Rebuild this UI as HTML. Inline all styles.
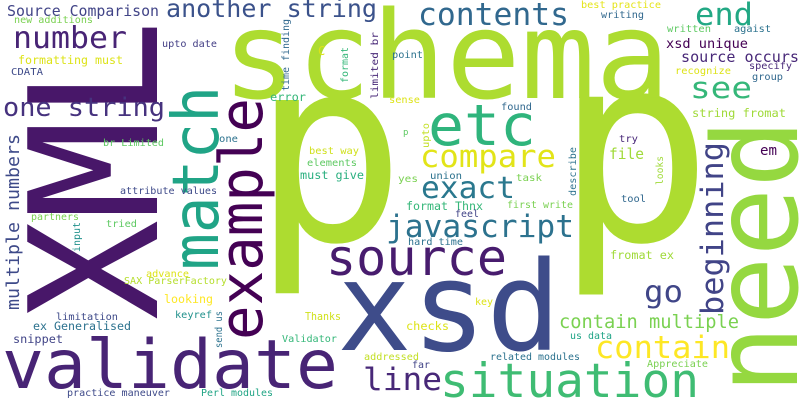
<!DOCTYPE html>
<html><head><meta charset="utf-8">
<style>
html,body{margin:0;padding:0;background:#fff;}
svg{display:block;}
text{font-family:"DejaVu Sans Mono","Liberation Mono",monospace;}
</style></head>
<body>
<svg width="800" height="400" viewBox="0 0 800 400" xmlns="http://www.w3.org/2000/svg">
<rect width="800" height="400" fill="#fff"/>
<g lengthAdjust="spacingAndGlyphs">
<!-- giant words -->
<text x="252" y="240" font-size="256" fill="#addc30" textLength="154" lengthAdjust="spacingAndGlyphs">p</text>
<text x="555" y="240" font-size="262" fill="#addc30" textLength="158" lengthAdjust="spacingAndGlyphs">p</text>
<text x="222" y="98" font-size="121" fill="#addc30" textLength="448" lengthAdjust="spacingAndGlyphs">schema</text>
<text transform="translate(157,320) rotate(-90)" font-size="178" fill="#481769" textLength="300" lengthAdjust="spacingAndGlyphs">XML</text>
<text transform="translate(797,394) rotate(-90)" font-size="118" fill="#95d840" textLength="275" lengthAdjust="spacingAndGlyphs">need</text>
<text x="337" y="350" font-size="124" fill="#3e4c8a" textLength="224" lengthAdjust="spacingAndGlyphs">xsd</text>
<text x="2" y="388" font-size="68" fill="#482475" textLength="336" lengthAdjust="spacingAndGlyphs">validate</text>
<text transform="translate(218,270) rotate(-90)" font-size="64" fill="#20a486" textLength="184" lengthAdjust="spacingAndGlyphs">match</text>
<text transform="translate(262,340) rotate(-90)" font-size="60" fill="#440154" textLength="242" lengthAdjust="spacingAndGlyphs">example</text>
<text x="326" y="275" font-size="50" fill="#481c6e" textLength="181" lengthAdjust="spacingAndGlyphs">source</text>
<text x="440" y="397" font-size="47" fill="#3fbc73" textLength="259" lengthAdjust="spacingAndGlyphs">situation</text>
<text x="428" y="145" font-size="57" fill="#2fb47c" textLength="108" lengthAdjust="spacingAndGlyphs">etc</text>
<!-- medium -->
<text x="420" y="167" font-size="31.5" fill="#e2e418" textLength="136" lengthAdjust="spacingAndGlyphs">compare</text>
<text x="421" y="198" font-size="30" fill="#2a788e" textLength="94" lengthAdjust="spacingAndGlyphs">exact</text>
<text x="386" y="237" font-size="31" fill="#2c728e" textLength="188" lengthAdjust="spacingAndGlyphs">javascript</text>
<text x="418" y="25" font-size="30.7" fill="#31688e" textLength="151" lengthAdjust="spacingAndGlyphs">contents</text>
<text x="695" y="25" font-size="30.7" fill="#22a884" textLength="58" lengthAdjust="spacingAndGlyphs">end</text>
<text x="690" y="98" font-size="29" fill="#35b779" textLength="62" lengthAdjust="spacingAndGlyphs">see</text>
<text x="644" y="302" font-size="30" fill="#404688" textLength="39" lengthAdjust="spacingAndGlyphs">go</text>
<text transform="translate(723,315) rotate(-90)" font-size="31" fill="#414487" textLength="173" lengthAdjust="spacingAndGlyphs">beginning</text>
<text x="595" y="358" font-size="31" fill="#fde725" textLength="135" lengthAdjust="spacingAndGlyphs">contain</text>
<text x="559" y="328" font-size="18.4" fill="#7ad151" textLength="180" lengthAdjust="spacingAndGlyphs">contain multiple</text>
<text x="363" y="390" font-size="31" fill="#482878" textLength="79" lengthAdjust="spacingAndGlyphs">line</text>
<text x="13" y="48" font-size="30" fill="#482475" textLength="114" lengthAdjust="spacingAndGlyphs">number</text>
<text x="3" y="116" font-size="26" fill="#46327e" textLength="162" lengthAdjust="spacingAndGlyphs">one string</text>
<text x="166" y="17" font-size="24.5" fill="#3b528b" textLength="211" lengthAdjust="spacingAndGlyphs">another string</text>
<text x="7" y="16" font-size="15" fill="#414487" textLength="152" lengthAdjust="spacingAndGlyphs">Source Comparison</text>
<text transform="translate(19,310) rotate(-90)" font-size="18" fill="#3e4a89" textLength="176" lengthAdjust="spacingAndGlyphs">multiple numbers</text>
<text x="666" y="48" font-size="13.3" fill="#440154" textLength="82" lengthAdjust="spacingAndGlyphs">xsd unique</text>
<text x="681" y="62" font-size="14.7" fill="#482878" textLength="118" lengthAdjust="spacingAndGlyphs">source occurs</text>
<text x="692" y="117" font-size="11.7" fill="#a0da39" textLength="94" lengthAdjust="spacingAndGlyphs">string fromat</text>
<text x="760" y="155" font-size="14" fill="#440154" textLength="17" lengthAdjust="spacingAndGlyphs">em</text>
<text x="609" y="159" font-size="15" fill="#a0da39" textLength="35" lengthAdjust="spacingAndGlyphs">file</text>
<text x="610" y="259" font-size="11.3" fill="#a0da39" textLength="64" lengthAdjust="spacingAndGlyphs">fromat ex</text>
<!-- small -->
<text x="14" y="23" font-size="10" fill="#7ad151" textLength="79" lengthAdjust="spacingAndGlyphs">new additions</text>
<text x="18" y="64" font-size="11.4" fill="#dde318" textLength="105" lengthAdjust="spacingAndGlyphs">formatting must</text>
<text x="11" y="75" font-size="10" fill="#3e4a89" textLength="32" lengthAdjust="spacingAndGlyphs">CDATA</text>
<text x="162" y="47" font-size="10" fill="#433e85" textLength="55" lengthAdjust="spacingAndGlyphs">upto date</text>
<text x="270" y="101" font-size="11.4" fill="#35b779" textLength="36" lengthAdjust="spacingAndGlyphs">error</text>
<text x="318" y="55" font-size="12" fill="#dde318">C</text>
<text x="103" y="146" font-size="10" fill="#5ec962" textLength="61" lengthAdjust="spacingAndGlyphs">br Limited</text>
<text x="219" y="142" font-size="10" fill="#2c728e" textLength="19" lengthAdjust="spacingAndGlyphs">one</text>
<text x="309" y="154" font-size="10" fill="#d0e11c" textLength="50" lengthAdjust="spacingAndGlyphs">best way</text>
<text x="307" y="166" font-size="10" fill="#5ec962" textLength="50" lengthAdjust="spacingAndGlyphs">elements</text>
<text x="300" y="179" font-size="11.4" fill="#29af7f" textLength="64" lengthAdjust="spacingAndGlyphs">must give</text>
<text x="120" y="194" font-size="10" fill="#3e4a89" textLength="97" lengthAdjust="spacingAndGlyphs">attribute values</text>
<text x="31" y="220" font-size="10" fill="#7ad151" textLength="48" lengthAdjust="spacingAndGlyphs">partners</text>
<text x="106" y="227" font-size="10" fill="#5ec962" textLength="31" lengthAdjust="spacingAndGlyphs">tried</text>
<text x="146" y="277" font-size="10" fill="#dde318" textLength="43" lengthAdjust="spacingAndGlyphs">advance</text>
<text x="124" y="284" font-size="10" fill="#b5de2b" textLength="103" lengthAdjust="spacingAndGlyphs">SAX ParserFactory</text>
<text x="164" y="303" font-size="11.3" fill="#fde725" textLength="49" lengthAdjust="spacingAndGlyphs">looking</text>
<text x="56" y="320" font-size="10" fill="#3e4a89" textLength="62" lengthAdjust="spacingAndGlyphs">limitation</text>
<text x="175" y="318" font-size="10" fill="#21918c" textLength="37" lengthAdjust="spacingAndGlyphs">keyref</text>
<text x="33" y="330" font-size="11.4" fill="#2c728e" textLength="98" lengthAdjust="spacingAndGlyphs">ex Generalised</text>
<text x="13" y="343" font-size="11.4" fill="#414487" textLength="50" lengthAdjust="spacingAndGlyphs">snippet</text>
<text x="282" y="342" font-size="10" fill="#35b779" textLength="55" lengthAdjust="spacingAndGlyphs">Validator</text>
<text x="305" y="320" font-size="10.5" fill="#d0e11c" textLength="36" lengthAdjust="spacingAndGlyphs">Thanks</text>
<text x="67" y="396" font-size="10" fill="#3e4a89" textLength="103" lengthAdjust="spacingAndGlyphs">practice maneuver</text>
<text x="201" y="396" font-size="10" fill="#21a585" textLength="72" lengthAdjust="spacingAndGlyphs">Perl modules</text>
<text x="389" y="103" font-size="10" fill="#dde318" textLength="31" lengthAdjust="spacingAndGlyphs">sense</text>
<text x="501" y="110" font-size="10" fill="#31688e" textLength="31" lengthAdjust="spacingAndGlyphs">found</text>
<text x="392" y="58" font-size="10" fill="#2c728e" textLength="31" lengthAdjust="spacingAndGlyphs">point</text>
<text x="403" y="135" font-size="9" fill="#5ec962">p</text>
<text x="398" y="182" font-size="10" fill="#7ad151" textLength="20" lengthAdjust="spacingAndGlyphs">yes</text>
<text x="430" y="179" font-size="10" fill="#2c728e" textLength="32" lengthAdjust="spacingAndGlyphs">union</text>
<text x="516" y="181" font-size="10" fill="#7ad151" textLength="26" lengthAdjust="spacingAndGlyphs">task</text>
<text x="406" y="210" font-size="11.4" fill="#35b779" textLength="77" lengthAdjust="spacingAndGlyphs">format Thnx</text>
<text x="507" y="208" font-size="10" fill="#7ad151" textLength="66" lengthAdjust="spacingAndGlyphs">first write</text>
<text x="455" y="217" font-size="10" fill="#414487" textLength="24" lengthAdjust="spacingAndGlyphs">feel</text>
<text x="408" y="245" font-size="10" fill="#2c728e" textLength="55" lengthAdjust="spacingAndGlyphs">hard time</text>
<text x="475" y="305" font-size="10" fill="#dde318" textLength="18" lengthAdjust="spacingAndGlyphs">key</text>
<text x="406" y="330" font-size="11.4" fill="#dde318" textLength="43" lengthAdjust="spacingAndGlyphs">checks</text>
<text x="570" y="339" font-size="10" fill="#20a486" textLength="42" lengthAdjust="spacingAndGlyphs">us data</text>
<text x="364" y="360" font-size="10" fill="#c2df23" textLength="55" lengthAdjust="spacingAndGlyphs">addressed</text>
<text x="490" y="360" font-size="10" fill="#2c728e" textLength="90" lengthAdjust="spacingAndGlyphs">related modules</text>
<text x="412" y="368" font-size="10" fill="#414487" textLength="18" lengthAdjust="spacingAndGlyphs">far</text>
<text x="647" y="367" font-size="10" fill="#7ad151" textLength="61" lengthAdjust="spacingAndGlyphs">Appreciate</text>
<text x="619" y="142" font-size="10" fill="#482878" textLength="19" lengthAdjust="spacingAndGlyphs">try</text>
<text x="621" y="202" font-size="10" fill="#31688e" textLength="25" lengthAdjust="spacingAndGlyphs">tool</text>
<text x="581" y="8" font-size="10" fill="#e5e419" textLength="80" lengthAdjust="spacingAndGlyphs">best practice</text>
<text x="601" y="18" font-size="10" fill="#31688e" textLength="43" lengthAdjust="spacingAndGlyphs">writing</text>
<text x="667" y="32" font-size="10" fill="#5ec962" textLength="44" lengthAdjust="spacingAndGlyphs">written</text>
<text x="734" y="32" font-size="10" fill="#2c728e" textLength="37" lengthAdjust="spacingAndGlyphs">agaist</text>
<text x="675" y="74" font-size="10" fill="#dde318" textLength="56" lengthAdjust="spacingAndGlyphs">recognize</text>
<text x="749" y="69" font-size="10" fill="#482878" textLength="43" lengthAdjust="spacingAndGlyphs">specify</text>
<text x="752" y="80" font-size="10" fill="#31688e" textLength="31" lengthAdjust="spacingAndGlyphs">group</text>
<!-- small vertical -->
<text transform="translate(80,252) rotate(-90)" font-size="9.5" fill="#21918c" textLength="30" lengthAdjust="spacingAndGlyphs">input</text>
<text transform="translate(222,348) rotate(-90)" font-size="10" fill="#2c728e" textLength="37" lengthAdjust="spacingAndGlyphs">send us</text>
<text transform="translate(289,91) rotate(-90)" font-size="9.7" fill="#31688e" textLength="72" lengthAdjust="spacingAndGlyphs">time finding</text>
<text transform="translate(348,83) rotate(-90)" font-size="10" fill="#35b779" textLength="36" lengthAdjust="spacingAndGlyphs">format</text>
<text transform="translate(378,99) rotate(-90)" font-size="10" fill="#482878" textLength="67" lengthAdjust="spacingAndGlyphs">limited br</text>
<text transform="translate(429,148) rotate(-90)" font-size="9.5" fill="#c2df23" textLength="25" lengthAdjust="spacingAndGlyphs">upto</text>
<text transform="translate(576,196) rotate(-90)" font-size="10" fill="#2c728e" textLength="49" lengthAdjust="spacingAndGlyphs">describe</text>
<text transform="translate(663,185) rotate(-90)" font-size="10" fill="#a0da39" textLength="29" lengthAdjust="spacingAndGlyphs">looks</text>
</g>
</svg>
</body></html>
